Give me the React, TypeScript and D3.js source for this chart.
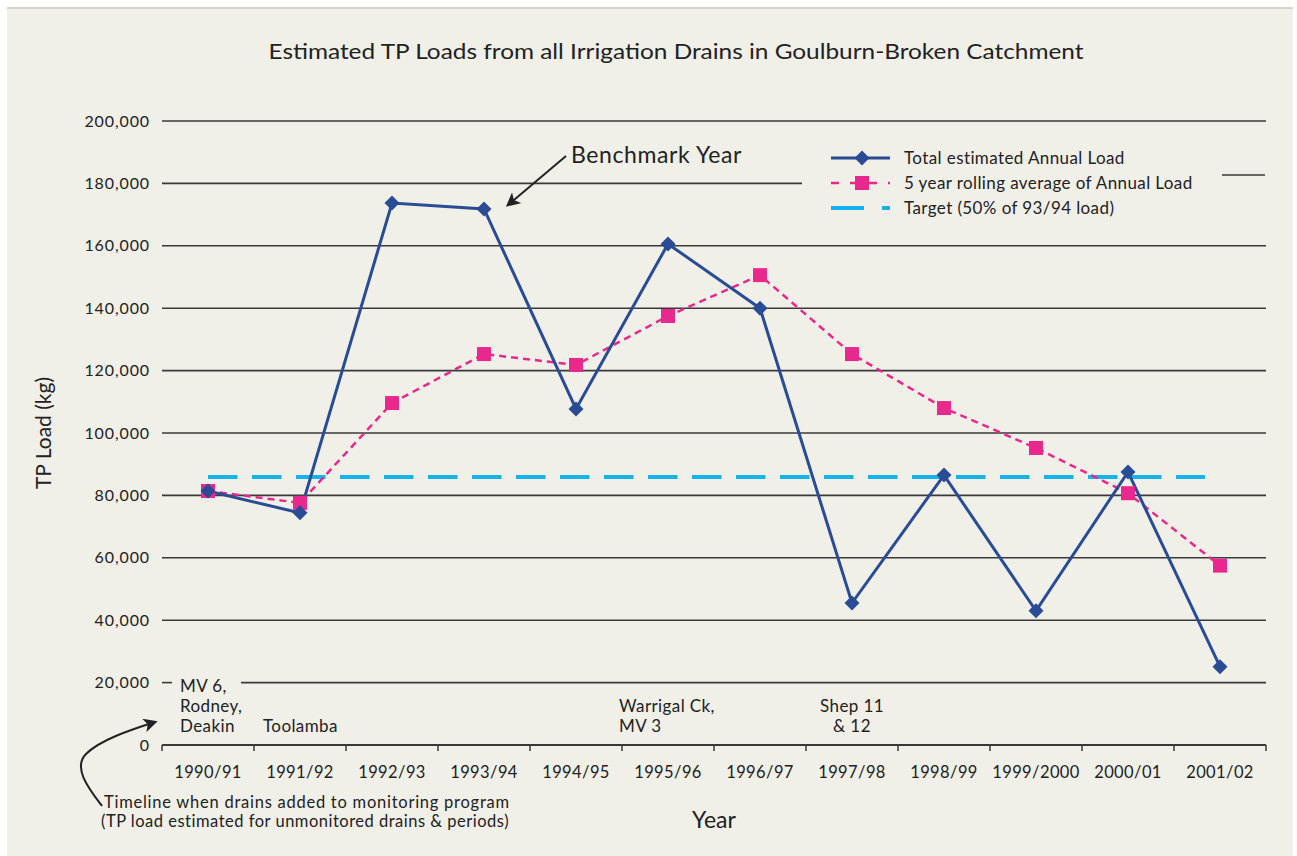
import React from "react";
import * as d3 from "d3";

const years = ["1990/91","1991/92","1992/93","1993/94","1994/95","1995/96","1996/97","1997/98","1998/99","1999/2000","2000/01","2001/02"];
const totalLoad = [81400,74400,173700,171800,107700,160600,140000,45500,86500,43000,87500,25100];
const rollingAvg = [81400,77600,109600,125300,121800,137500,150600,125300,108000,95200,80700,57500];
const targetLoad = 85900;
const yTicks = [0,20000,40000,60000,80000,100000,120000,140000,160000,180000,200000];
const legendLabels = ["Total estimated Annual Load","5 year rolling average of Annual Load","Target (50% of 93/94 load)"];
const drainNotes = [
  { year: "1990/91", lines: ["MV 6,", "Rodney,", "Deakin"], dx: -28, anchor: "start" },
  { year: "1991/92", lines: ["Toolamba"], dx: -37, anchor: "start" },
  { year: "1995/96", lines: ["Warrigal Ck,", "MV 3"], dx: -49, anchor: "start" },
  { year: "1997/98", lines: ["Shep 11", "& 12"], dx: 0, anchor: "middle" },
];

const FONT = "Lato, 'Open Sans', sans-serif";
const BLUE = "#294c94";
const PINK = "#e8288c";
const CYAN = "#14b4ea";
const GRID = "#3a3a3a";

export default function App() {
  const W = 1297, H = 856;
  const left = 162, right = 1266, top = 121, bottom = 745;
  const x = d3.scaleBand<string>().domain(years).range([left, right]);
  const cx = (yr: string) => (x(yr) as number) + x.bandwidth() / 2;
  const y = d3.scaleLinear().domain([0, 200000]).range([bottom, top]);
  const fmt = d3.format(",");

  const line = d3.line<number>().x((_, i) => cx(years[i])).y((d) => y(d));

  const diamond = (px: number, py: number, r: number) =>
    `M${px},${py - r}L${px + r},${py}L${px},${py + r}L${px - r},${py}Z`;

  const legendX = 831, legendTextX = 904;
  const legendYs = [158, 183, 208];

  const gridSegments = (v: number): [number, number][] => {
    if (v === 0) return [];
    if (v === 20000) return [[241, right]];
    if (v === 180000) return [[left, 802]];
    return [[left, right]];
  };

  return (
    <svg width={W} height={H} style={{ position: "absolute", left: 0, top: 0 }} fontFamily={FONT}>
      <defs>
        <marker id="ah" viewBox="0 0 10 10" refX="8" refY="5" markerWidth="7" markerHeight="7" orient="auto-start-reverse">
          <path d="M0,0L10,5L0,10L2.5,5Z" fill="#222" />
        </marker>
      </defs>
      <rect x={0} y={0} width={W} height={H} fill="#ffffff" />
      <rect x={7} y={7} width={1286} height={H - 7} fill="#f0efe8" />
      <rect x={7} y={7} width={1286} height={2} fill="#d8d5c6" />

      <text x={676} y={59} textAnchor="middle" fontSize={21} fill="#222" textLength={815} lengthAdjust="spacingAndGlyphs">
        Estimated TP Loads from all Irrigation Drains in Goulburn-Broken Catchment
      </text>

      {/* gridlines */}
      {yTicks.map((v) =>
        gridSegments(v).map(([a, b], k) => (
          <line key={v + "-" + k} x1={a} x2={b} y1={y(v)} y2={y(v)} stroke={GRID} strokeWidth={1.6} />
        ))
      )}
      <line x1={162} x2={172} y1={y(20000)} y2={y(20000)} stroke={GRID} strokeWidth={1.6} />
      <line x1={1222} x2={1265} y1={175} y2={175} stroke={GRID} strokeWidth={1.6} />

      {/* y tick labels */}
      {yTicks.map((v) => (
        <text key={"yt" + v} x={150} y={y(v) + 5.5} textAnchor="end" fontSize={16} letterSpacing={0.9} fill="#222">
          {fmt(v)}
        </text>
      ))}

      {/* x axis */}
      <line x1={left} x2={right} y1={bottom} y2={bottom} stroke={GRID} strokeWidth={1.8} />
      {d3.range(years.length + 1).map((i) => {
        const tx = left + i * x.bandwidth();
        return <line key={"xt" + i} x1={tx} x2={tx} y1={bottom} y2={bottom + 6} stroke={GRID} strokeWidth={1.5} />;
      })}
      {years.map((yr) => (
        <text key={"xl" + yr} x={cx(yr)} y={778} textAnchor="middle" fontSize={16.5} letterSpacing={0.4} fill="#222">
          {yr}
        </text>
      ))}

      {/* axis titles */}
      <text transform={`translate(51,${y(100000)}) rotate(-90)`} textAnchor="middle" fontSize={21} fill="#222">
        TP Load (kg)
      </text>
      <text x={714} y={828} textAnchor="middle" fontSize={23} fill="#222">Year</text>

      {/* target */}
      <line x1={cx(years[0])} x2={1205} y1={y(targetLoad)} y2={y(targetLoad)} stroke={CYAN} strokeWidth={4} strokeDasharray="29.5 14.5" />

      {/* rolling average */}
      <path d={line(rollingAvg) || ""} fill="none" stroke={PINK} strokeWidth={2.5} strokeDasharray="7 5" />
      {/* total */}
      <path d={line(totalLoad) || ""} fill="none" stroke={BLUE} strokeWidth={3} strokeLinejoin="miter" />
      {rollingAvg.map((v, i) => (
        <rect key={"sq" + i} x={cx(years[i]) - 7} y={y(v) - 7} width={14} height={14} fill={PINK} />
      ))}
      {totalLoad.map((v, i) => (
        <path key={"dm" + i} d={diamond(cx(years[i]), y(v), 7.5)} fill={BLUE} />
      ))}

      {/* legend */}
      <line x1={legendX} x2={890} y1={legendYs[0]} y2={legendYs[0]} stroke={BLUE} strokeWidth={3} />
      <path d={diamond(862, legendYs[0], 7.5)} fill={BLUE} />
      <line x1={legendX} x2={890} y1={legendYs[1]} y2={legendYs[1]} stroke={PINK} strokeWidth={2.5} strokeDasharray="8 11" />
      <rect x={855} y={legendYs[1] - 7} width={14} height={14} fill={PINK} />
      <line x1={legendX} x2={890} y1={legendYs[2]} y2={legendYs[2]} stroke={CYAN} strokeWidth={4} strokeDasharray="33 18" />
      {legendLabels.map((t, i) => (
        <text key={"lg" + i} x={legendTextX} y={legendYs[i] + 5.5} fontSize={17} letterSpacing={0.4} fill="#222">{t}</text>
      ))}

      {/* benchmark annotation */}
      <text x={571} y={163} fontSize={23} letterSpacing={0.6} fill="#222">Benchmark Year</text>
      <line x1={566} y1={156} x2={508} y2={205} stroke="#222" strokeWidth={2} markerEnd="url(#ah)" />

      {/* drain notes */}
      {drainNotes.map((n) => {
        const baseY = n.lines.length === 3 ? 692 : n.year === "1991/92" ? 732 : 712;
        return (
          <text key={"dn" + n.year} x={cx(n.year) + n.dx} y={baseY} fontSize={17} letterSpacing={0.4} fill="#222" textAnchor={n.anchor as any}>
            {n.lines.map((l, k) => (
              <tspan key={k} x={cx(n.year) + n.dx} dy={k === 0 ? 0 : 20}>{l}</tspan>
            ))}
          </text>
        );
      })}

      {/* timeline note */}
      <path d="M102,806 C90,790 72,768 86,754 C100,740 130,730 155,722" fill="none" stroke="#222" strokeWidth={2} markerEnd="url(#ah)" />
      <text x={104} y={808} fontSize={16.5} letterSpacing={0.75} fill="#222">Timeline when drains added to monitoring program</text>
      <text x={101} y={827} fontSize={16.5} letterSpacing={0.5} fill="#222">(TP load estimated for unmonitored drains &amp; periods)</text>
    </svg>
  );
}
